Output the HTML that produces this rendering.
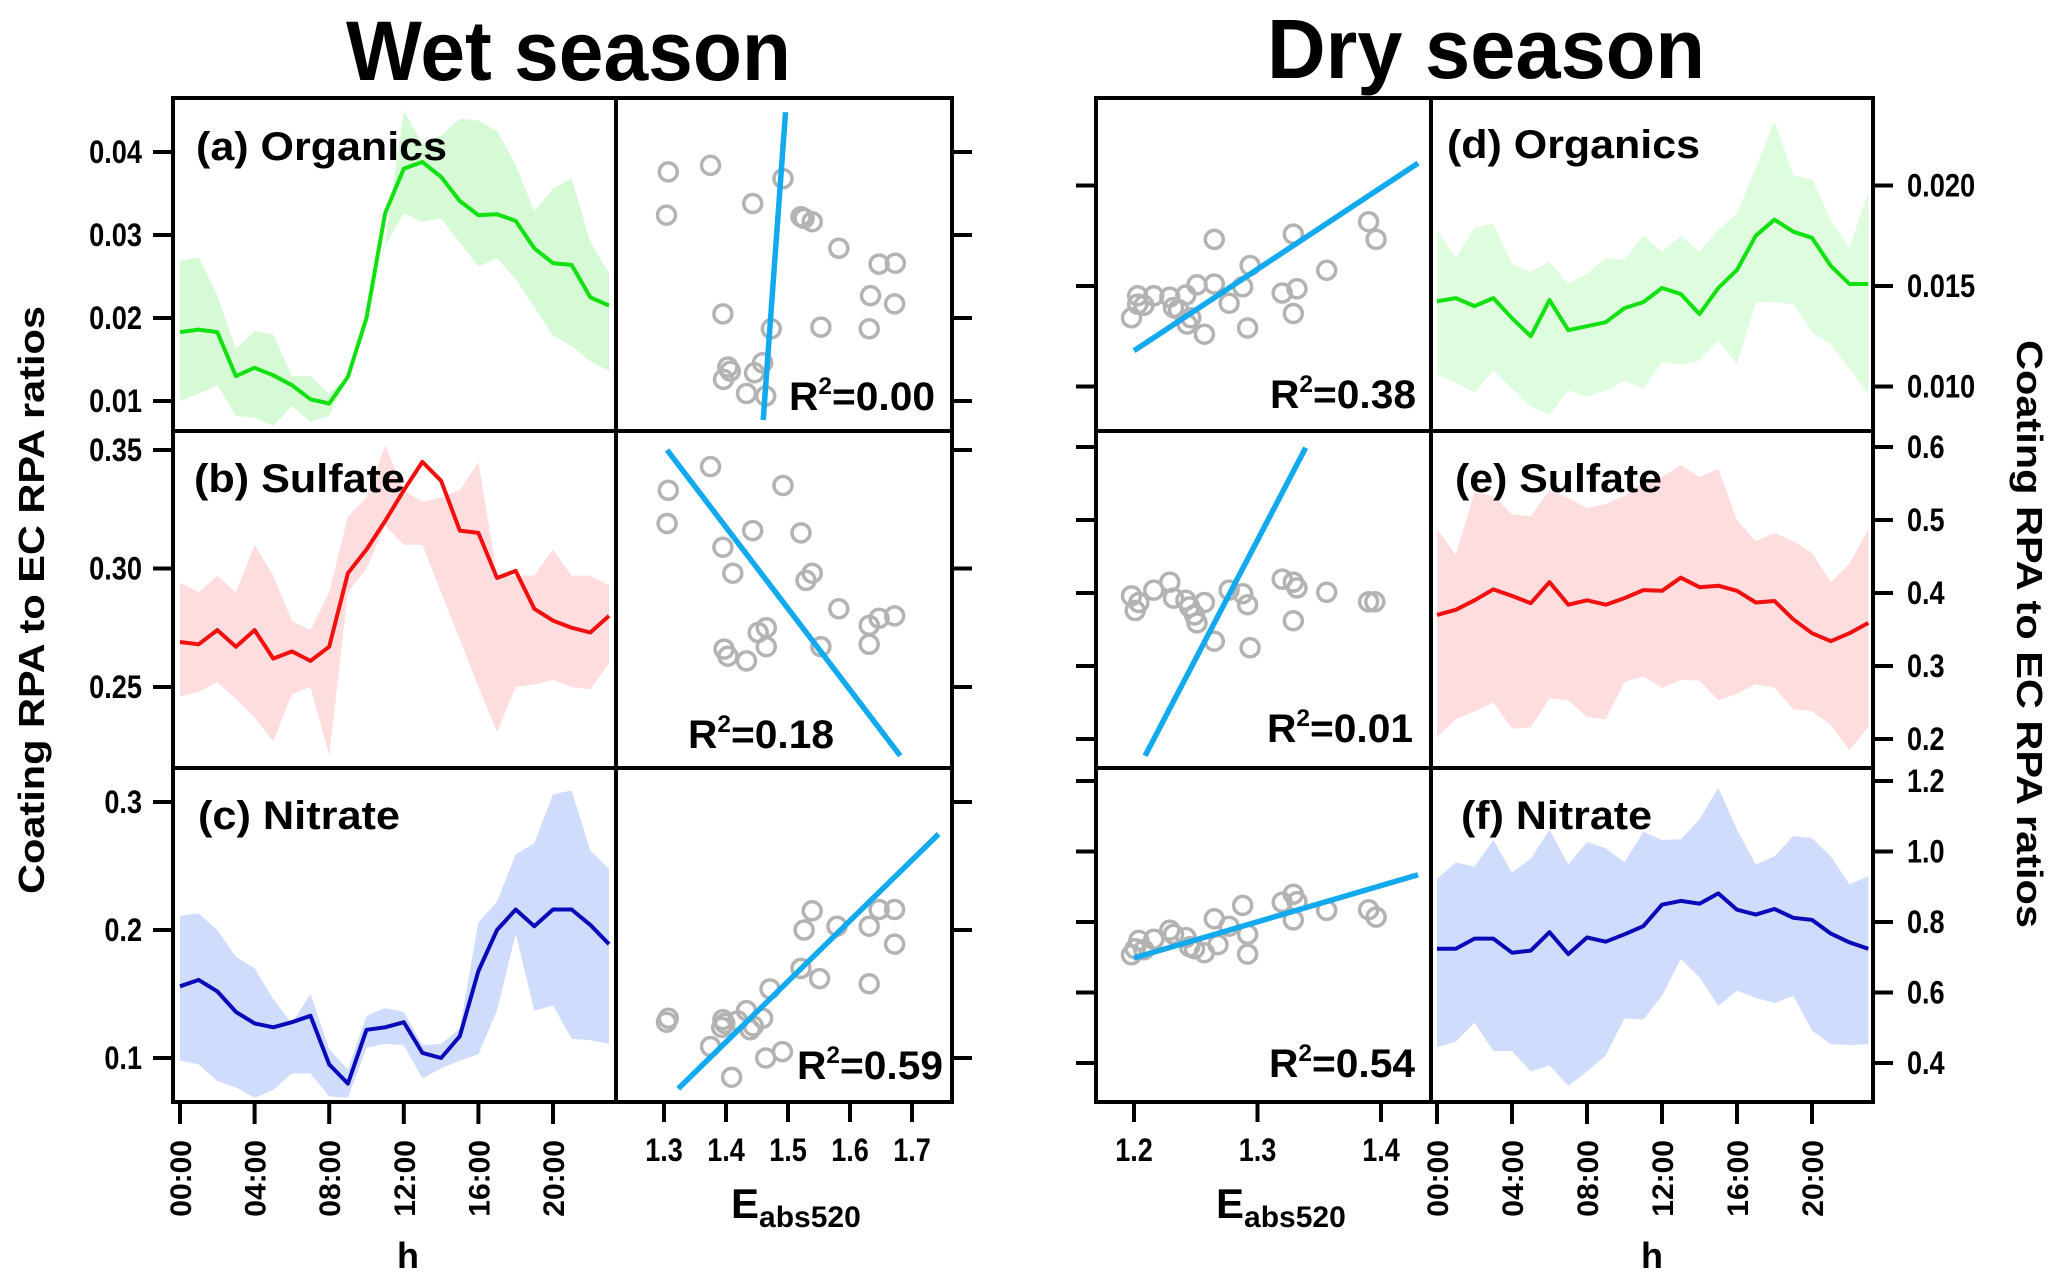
<!DOCTYPE html>
<html><head><meta charset="utf-8"><style>
html,body{margin:0;padding:0;background:#fff;}
svg{display:block;font-family:"Liberation Sans",Arial,sans-serif;font-weight:bold;}
</style></head><body>
<svg id="chart" width="2067" height="1287" viewBox="0 0 2067 1287" xmlns="http://www.w3.org/2000/svg">
<defs>
<clipPath id="cWT"><rect x="173" y="98" width="443" height="1004"/></clipPath>
<clipPath id="cWS"><rect x="616" y="98" width="336" height="1004"/></clipPath>
<clipPath id="cDS"><rect x="1096" y="98" width="335" height="1004"/></clipPath>
<clipPath id="cDT"><rect x="1431" y="98" width="442" height="1004"/></clipPath>
</defs>
<text x="346" y="80" font-size="84" textLength="445" lengthAdjust="spacingAndGlyphs">Wet season</text>
<text x="1267" y="78" font-size="84" textLength="438" lengthAdjust="spacingAndGlyphs">Dry season</text>
<text transform="translate(44,600) rotate(-90)" text-anchor="middle" font-size="36" textLength="588" lengthAdjust="spacingAndGlyphs">Coating RPA to EC RPA ratios</text>
<text transform="translate(2017,634) rotate(90)" text-anchor="middle" font-size="36" textLength="588" lengthAdjust="spacingAndGlyphs">Coating RPA to EC RPA ratios</text>
<g id="marks"></g>
<g id="frames"></g>
</svg>
<script>
// ---------- data ----------
const hours = [0,1,2,3,4,5,6,7,8,9,10,11,12,13,14,15,16,17,18,19,20,21,22,23];
const timeTicks = [0,4,8,12,16,20];
const timeTickLabels = ["00:00","04:00","08:00","12:00","16:00","20:00"];

const wetOrgLine = [0.0183,0.0186,0.0183,0.0130,0.0140,0.0131,0.0119,0.0102,0.0097,0.0129,0.0200,0.0326,0.0380,0.0388,0.0370,0.0341,0.0324,0.0325,0.0317,0.0284,0.0266,0.0264,0.0225,0.0215];
const wetOrgHigh = [0.0269,0.0273,0.0227,0.0163,0.0184,0.0180,0.0130,0.0130,0.0109,0.0129,0.0200,0.0290,0.0450,0.0410,0.0420,0.0440,0.0438,0.0425,0.0385,0.0328,0.0356,0.0368,0.0292,0.0254];
const wetOrgLow = [0.0100,0.0109,0.0119,0.0082,0.0080,0.0070,0.0094,0.0075,0.0082,0.0129,0.0198,0.0287,0.0326,0.0316,0.0320,0.0291,0.0262,0.0272,0.0247,0.0213,0.0179,0.0166,0.0148,0.0136];

const wetSulLine = [0.269,0.268,0.274,0.267,0.274,0.262,0.265,0.261,0.267,0.298,0.308,0.320,0.333,0.345,0.337,0.316,0.315,0.296,0.299,0.283,0.278,0.275,0.273,0.280];
const wetSulHigh = [0.294,0.290,0.297,0.290,0.310,0.297,0.278,0.274,0.290,0.322,0.330,0.352,0.333,0.328,0.330,0.333,0.345,0.297,0.297,0.297,0.308,0.297,0.297,0.293];
const wetSulLow = [0.246,0.248,0.252,0.245,0.237,0.227,0.247,0.250,0.221,0.290,0.300,0.318,0.310,0.310,0.290,0.270,0.250,0.231,0.250,0.251,0.253,0.250,0.249,0.260];

const wetNitLine = [0.156,0.161,0.152,0.136,0.127,0.124,0.128,0.133,0.095,0.080,0.122,0.124,0.128,0.104,0.100,0.117,0.168,0.200,0.216,0.203,0.216,0.216,0.204,0.189];
const wetNitHigh = [0.211,0.213,0.200,0.179,0.170,0.146,0.127,0.150,0.107,0.091,0.133,0.139,0.136,0.110,0.111,0.123,0.206,0.222,0.259,0.268,0.306,0.309,0.262,0.248];
const wetNitLow = [0.098,0.095,0.082,0.077,0.069,0.075,0.088,0.088,0.070,0.069,0.108,0.111,0.110,0.084,0.092,0.098,0.103,0.137,0.197,0.137,0.141,0.115,0.114,0.111];

const dryOrgLine = [0.01424,0.0144,0.0140,0.0144,0.0134,0.0125,0.0143,0.0128,0.0130,0.0132,0.0139,0.0142,0.0149,0.0146,0.0136,0.0149,0.0158,0.0175,0.0183,0.0177,0.0174,0.0160,0.0151,0.0151];
const dryOrgHigh = [0.0178,0.0164,0.0179,0.0181,0.0161,0.0157,0.0162,0.0151,0.0156,0.0164,0.0163,0.0175,0.0167,0.0175,0.0167,0.0178,0.0186,0.0209,0.0232,0.0205,0.0203,0.0183,0.0169,0.0197];
const dryOrgLow = [0.0106,0.0102,0.0097,0.0108,0.0099,0.0090,0.0086,0.0098,0.0095,0.0098,0.0103,0.0099,0.0112,0.0111,0.0113,0.0123,0.0111,0.0142,0.0142,0.0141,0.0127,0.0121,0.0109,0.0096];

const drySulLine = [0.370,0.377,0.390,0.405,0.396,0.386,0.415,0.384,0.390,0.384,0.393,0.404,0.403,0.421,0.408,0.410,0.403,0.387,0.389,0.364,0.345,0.334,0.345,0.359];
const drySulHigh = [0.488,0.452,0.538,0.533,0.508,0.505,0.541,0.530,0.516,0.522,0.533,0.552,0.559,0.575,0.559,0.570,0.500,0.471,0.482,0.471,0.455,0.415,0.440,0.488];
const drySulLow = [0.203,0.227,0.238,0.250,0.214,0.216,0.256,0.253,0.230,0.227,0.278,0.286,0.270,0.281,0.280,0.253,0.262,0.275,0.270,0.241,0.238,0.219,0.185,0.216];

const dryNitLine = [0.724,0.724,0.753,0.753,0.713,0.719,0.771,0.709,0.756,0.744,0.765,0.788,0.849,0.860,0.852,0.881,0.835,0.821,0.837,0.812,0.806,0.767,0.742,0.724];
const dryNitHigh = [0.922,0.969,0.957,1.033,0.940,0.980,1.062,0.963,1.027,1.009,0.969,1.056,1.033,1.035,1.091,1.181,1.062,0.963,0.986,1.044,1.038,0.986,0.907,0.930];
const dryNitLow = [0.445,0.460,0.515,0.434,0.434,0.376,0.393,0.335,0.376,0.422,0.527,0.523,0.591,0.695,0.643,0.562,0.605,0.585,0.570,0.591,0.492,0.453,0.451,0.453];

// scatter (Eabs520 vs ratio)
const wetOrgSx = [1.307,1.304,1.375,1.492,1.443,1.521,1.526,1.539,1.582,1.647,1.673,1.633,1.672,1.395,1.473,1.553,1.631,1.403,1.407,1.396,1.446,1.459,1.433,1.464];
const wetOrgSy = [0.0376,0.0324,0.0384,0.0368,0.0338,0.0322,0.0320,0.0316,0.0284,0.0265,0.0266,0.0227,0.0217,0.0205,0.0187,0.0189,0.0187,0.0141,0.0136,0.0126,0.0134,0.0146,0.0109,0.0106];
const wetOrgFitX = [1.496,1.460];
const wetOrgFitY = [0.0448,0.0077];

const wetSulSx = [1.305,1.307,1.375,1.492,1.443,1.521,1.395,1.411,1.539,1.529,1.582,1.672,1.647,1.631,1.465,1.452,1.397,1.403,1.433,1.465,1.553,1.631];
const wetSulSy = [0.319,0.333,0.343,0.335,0.316,0.315,0.309,0.298,0.298,0.295,0.283,0.280,0.279,0.276,0.275,0.273,0.266,0.263,0.261,0.267,0.267,0.268];
const wetSulFitX = [1.305,1.681];
const wetSulFitY = [0.350,0.221];

const wetNitSx = [1.304,1.307,1.395,1.398,1.393,1.433,1.444,1.459,1.471,1.375,1.409,1.464,1.491,1.521,1.551,1.526,1.539,1.579,1.631,1.647,1.672,1.672,1.631,1.439,1.419];
const wetNitSy = [0.128,0.131,0.130,0.127,0.124,0.137,0.125,0.131,0.154,0.109,0.085,0.100,0.105,0.170,0.162,0.200,0.215,0.203,0.203,0.216,0.216,0.189,0.158,0.122,0.129];
const wetNitFitX = [1.323,1.743];
const wetNitFitY = [0.076,0.275];

const dryOrgSx = [1.198,1.203,1.203,1.216,1.229,1.232,1.242,1.251,1.265,1.265,1.277,1.288,1.294,1.243,1.246,1.257,1.292,1.320,1.329,1.332,1.329,1.356,1.390,1.396,1.208,1.236];
const dryOrgSy = [0.01342,0.01410,0.01451,0.01451,0.01445,0.01393,0.01455,0.01506,0.0151,0.01732,0.01414,0.01496,0.01602,0.01311,0.01342,0.0126,0.01291,0.01465,0.01758,0.01486,0.01363,0.01578,0.0182,0.01732,0.01404,0.01383];
const dryOrgFitX = [1.200,1.430];
const dryOrgFitY = [0.01178,0.02111];

const drySulSx = [1.198,1.201,1.204,1.216,1.229,1.232,1.242,1.245,1.249,1.251,1.257,1.277,1.288,1.292,1.320,1.329,1.332,1.356,1.329,1.390,1.395,1.265,1.294];
const drySulSy = [0.396,0.376,0.387,0.404,0.415,0.393,0.390,0.381,0.370,0.359,0.387,0.404,0.399,0.384,0.419,0.415,0.407,0.401,0.362,0.388,0.388,0.334,0.325];
const drySulFitX = [1.339,1.209];
const drySulFitY = [0.599,0.177];

const dryNitSx = [1.198,1.201,1.204,1.216,1.229,1.232,1.242,1.245,1.249,1.257,1.265,1.277,1.288,1.292,1.292,1.320,1.329,1.329,1.332,1.356,1.390,1.396,1.268,1.208];
const dryNitSy = [0.707,0.724,0.748,0.751,0.777,0.765,0.756,0.730,0.724,0.713,0.809,0.788,0.847,0.765,0.709,0.856,0.879,0.806,0.858,0.833,0.835,0.814,0.736,0.721];
const dryNitFitX = [1.200,1.430];
const dryNitFitY = [0.698,0.934];

const wetEabsTicks = [1.3,1.4,1.5,1.6,1.7];
const dryEabsTicks = [1.2,1.3,1.4];
const wetOrgTicks = [0.04,0.03,0.02,0.01];
const wetOrgTickLabels = ["0.04","0.03","0.02","0.01"];
const wetSulTicks = [0.35,0.30,0.25];
const wetSulTickLabels = ["0.35","0.30","0.25"];
const wetNitTicks = [0.3,0.2,0.1];
const wetNitTickLabels = ["0.3","0.2","0.1"];
const dryOrgTicks = [0.020,0.015,0.010];
const dryOrgTickLabels = ["0.020","0.015","0.010"];
const drySulTicks = [0.6,0.5,0.4,0.3,0.2];
const drySulTickLabels = ["0.6","0.5","0.4","0.3","0.2"];
const dryNitTicks = [1.2,1.0,0.8,0.6,0.4];
const dryNitTickLabels = ["1.2","1.0","0.8","0.6","0.4"];

// ---------- scales ----------
const NS = "http://www.w3.org/2000/svg";
const xWetH = h => 180 + h * 18.65;
const xDryH = h => 1437 + h * 18.75;
const xWetE = e => 664 + (e - 1.3) * 620;
const xDryE = e => 1134 + (e - 1.2) * 1235;
const yWetOrg = v => 152 + (0.04 - v) * 8300;
const yWetSul = v => 450 + (0.35 - v) * 2370;
const yWetNit = v => 802 + (0.3 - v) * 1280;
const yDryOrg = v => 286 + (0.015 - v) * 20100;
const yDrySul = v => 593 + (0.4 - v) * 730;
const yDryNit = v => 922 + (0.8 - v) * 352.5;

const marks = document.getElementById('marks');
const frames = document.getElementById('frames');
function mk(tag, parent){ const e = document.createElementNS(NS, tag); parent.appendChild(e); return e; }
function numWidth(s){ let w = 0; for (const ch of s) w += (ch === '.') ? 7 : (ch === ':') ? 11 : 15.3; return w; }

function band(xs, ys, hi, lo, fill, clip, name){
  const g = mk('g', marks); g.setAttribute('clip-path','url(#'+clip+')');
  
  
  let pts = hours.map(h => xs(h).toFixed(1)+','+ys(hi[h]).toFixed(1));
  pts = pts.concat(hours.slice().reverse().map(h => xs(h).toFixed(1)+','+ys(lo[h]).toFixed(1)));
  const p = mk('polygon', g); p.setAttribute('points', pts.join(' ')); p.setAttribute('fill', fill);
  
  
  return g;
}
function line(g, xs, ys, vals, color, name){
  const p = mk('polyline', g);
  p.setAttribute('points', hours.map(h => xs(h).toFixed(1)+','+ys(vals[h]).toFixed(1)).join(' '));
  p.setAttribute('fill','none'); p.setAttribute('stroke', color); p.setAttribute('stroke-width','4'); p.setAttribute('stroke-linejoin','round');
  
  
}
function scatter(xs, ys, sx, sy, fx, fy, clip, name){
  const g = mk('g', marks); g.setAttribute('clip-path','url(#'+clip+')');
  
  
  sx.forEach((e,i) => {
    const c = mk('circle', g);
    c.setAttribute('cx', xs(e).toFixed(1)); c.setAttribute('cy', ys(sy[i]).toFixed(1)); c.setAttribute('r','9');
    c.setAttribute('fill','none'); c.setAttribute('stroke','#b3b3b3'); c.setAttribute('stroke-width','3.5');
    
    
  });
  const l = mk('line', g);
  l.setAttribute('x1', xs(fx[0])); l.setAttribute('y1', ys(fy[0])); l.setAttribute('x2', xs(fx[1])); l.setAttribute('y2', ys(fy[1]));
  l.setAttribute('stroke','#12a9ef'); l.setAttribute('stroke-width','5.5');
  
  
}

// time series
let g;
g = band(xWetH, yWetOrg, wetOrgHigh, wetOrgLow, '#d6fad6', 'cWT', 'wet-organics'); line(g, xWetH, yWetOrg, wetOrgLine, '#11e011', 'wet-organics');
g = band(xWetH, yWetSul, wetSulHigh, wetSulLow, '#fddddd', 'cWT', 'wet-sulfate'); line(g, xWetH, yWetSul, wetSulLine, '#f01010', 'wet-sulfate');
g = band(xWetH, yWetNit, wetNitHigh, wetNitLow, '#cfdcfb', 'cWT', 'wet-nitrate'); line(g, xWetH, yWetNit, wetNitLine, '#0a0ab8', 'wet-nitrate');
g = band(xDryH, yDryOrg, dryOrgHigh, dryOrgLow, '#defcde', 'cDT', 'dry-organics'); line(g, xDryH, yDryOrg, dryOrgLine, '#11e011', 'dry-organics');
g = band(xDryH, yDrySul, drySulHigh, drySulLow, '#fddddd', 'cDT', 'dry-sulfate'); line(g, xDryH, yDrySul, drySulLine, '#f01010', 'dry-sulfate');
g = band(xDryH, yDryNit, dryNitHigh, dryNitLow, '#cfdcfb', 'cDT', 'dry-nitrate'); line(g, xDryH, yDryNit, dryNitLine, '#0a0ab8', 'dry-nitrate');

// scatters
scatter(xWetE, yWetOrg, wetOrgSx, wetOrgSy, wetOrgFitX, wetOrgFitY, 'cWS', 'wet-organics');
scatter(xWetE, yWetSul, wetSulSx, wetSulSy, wetSulFitX, wetSulFitY, 'cWS', 'wet-sulfate');
scatter(xWetE, yWetNit, wetNitSx, wetNitSy, wetNitFitX, wetNitFitY, 'cWS', 'wet-nitrate');
scatter(xDryE, yDryOrg, dryOrgSx, dryOrgSy, dryOrgFitX, dryOrgFitY, 'cDS', 'dry-organics');
scatter(xDryE, yDrySul, drySulSx, drySulSy, drySulFitX, drySulFitY, 'cDS', 'dry-sulfate');
scatter(xDryE, yDryNit, dryNitSx, dryNitSy, dryNitFitX, dryNitFitY, 'cDS', 'dry-nitrate');

// frames
const rows = [[98,431],[431,768],[768,1102]];
const cols = [[173,616],[616,952],[1096,1431],[1431,1873]];
cols.forEach(c => rows.forEach(r => {
  const rc = mk('rect', frames);
  rc.setAttribute('x', c[0]); rc.setAttribute('y', r[0]); rc.setAttribute('width', c[1]-c[0]); rc.setAttribute('height', r[1]-r[0]);
  rc.setAttribute('fill','none'); rc.setAttribute('stroke','#000'); rc.setAttribute('stroke-width','4');
  
  
}));

function tick(x1,y1,x2,y2){
  const l = mk('line', frames); l.setAttribute('x1',x1); l.setAttribute('y1',y1); l.setAttribute('x2',x2); l.setAttribute('y2',y2);
  l.setAttribute('stroke','#000'); l.setAttribute('stroke-width','4');
  
  
}
function txt(x,y,s,size,anchor,name,rot){
  const t = mk('text', frames); t.textContent = s; t.setAttribute('font-size', size);
  if (anchor) t.setAttribute('text-anchor', anchor);
  if (rot) { t.setAttribute('transform','translate('+x+','+y+') rotate('+rot+')'); }
  else { t.setAttribute('x', x); t.setAttribute('y', y); }
  
  
  return t;
}
function numTxt(x,y,s,anchor,name,rot){
  const t = txt(x,y,s,32,anchor,name,rot);
  t.setAttribute('textLength', numWidth(s).toFixed(1)); t.setAttribute('lengthAdjust','spacingAndGlyphs');
  return t;
}
// y ticks
function yTicks(vals, labels, ys, side, scatterSide){
  vals.forEach((v,i) => {
    const y = ys(v);
    if (side === 'left') { tick(153, y, 173, y); numTxt(142, y+11, labels[i], 'end', 'y-tick-label'); }
    else { tick(1873, y, 1893, y); numTxt(1907, y+11, labels[i], 'start', 'y-tick-label'); }
    if (scatterSide === 'right') tick(952, y, 972, y); else tick(1076, y, 1096, y);
  });
}
yTicks(wetOrgTicks, wetOrgTickLabels, yWetOrg, 'left', 'right');
yTicks(wetSulTicks, wetSulTickLabels, yWetSul, 'left', 'right');
yTicks(wetNitTicks, wetNitTickLabels, yWetNit, 'left', 'right');
yTicks(dryOrgTicks, dryOrgTickLabels, yDryOrg, 'right', 'left');
yTicks(drySulTicks, drySulTickLabels, yDrySul, 'right', 'left');
yTicks(dryNitTicks, dryNitTickLabels, yDryNit, 'right', 'left');
// x ticks
timeTicks.forEach((h,i) => {
  tick(xWetH(h), 1102, xWetH(h), 1124); txt(xWetH(h)+11, 1140, timeTickLabels[i], 30, 'end', 'x-tick-label', -90);
  tick(xDryH(h), 1102, xDryH(h), 1124); txt(xDryH(h)+11, 1140, timeTickLabels[i], 30, 'end', 'x-tick-label', -90);
});
wetEabsTicks.forEach(e => { tick(xWetE(e), 1102, xWetE(e), 1122); numTxt(xWetE(e), 1161, e.toFixed(1), 'middle', 'x-tick-label'); });
dryEabsTicks.forEach(e => { tick(xDryE(e), 1102, xDryE(e), 1122); numTxt(xDryE(e), 1161, e.toFixed(1), 'middle', 'x-tick-label'); });
txt(408, 1268, 'h', 36, 'middle', 'x-axis-title-wet-h');
txt(1652, 1268, 'h', 36, 'middle', 'x-axis-title-dry-h');
function eabs(x, name){
  const t = txt(x, 1218, 'E', 42, 'start', name);
  const s = mk('tspan', t); s.textContent = 'abs520'; s.setAttribute('font-size','30'); s.setAttribute('dy','9');
}
eabs(731, 'x-axis-title-wet-eabs');
eabs(1216, 'x-axis-title-dry-eabs');

// panel labels
function plabel(x,y,s,w,name){ const t = txt(x,y,s,40,'start',name); t.setAttribute('textLength', w); t.setAttribute('lengthAdjust','spacingAndGlyphs'); }
plabel(196,160,'(a) Organics',251,'panel-label-a');
plabel(194,492,'(b) Sulfate',211,'panel-label-b');
plabel(198,829,'(c) Nitrate',202,'panel-label-c');
plabel(1447,158,'(d) Organics',253,'panel-label-d');
plabel(1455,492,'(e) Sulfate',207,'panel-label-e');
plabel(1461,829,'(f) Nitrate',191,'panel-label-f');
// R2 labels
function r2(x,y,val,name){
  const t = txt(x,y,'R',40,'start',name);
  const s = mk('tspan', t); s.textContent='2'; s.setAttribute('font-size','24'); s.setAttribute('dy','-16');
  const r = mk('tspan', t); r.textContent='='+val; r.setAttribute('dy','16');
  t.setAttribute('textLength','146'); t.setAttribute('lengthAdjust','spacingAndGlyphs');
}
r2(789,410,'0.00','r2-wet-organics');
r2(688,748,'0.18','r2-wet-sulfate');
r2(797,1079,'0.59','r2-wet-nitrate');
r2(1270,408,'0.38','r2-dry-organics');
r2(1267,742,'0.01','r2-dry-sulfate');
r2(1269,1077,'0.54','r2-dry-nitrate');
</script>
</body></html>
